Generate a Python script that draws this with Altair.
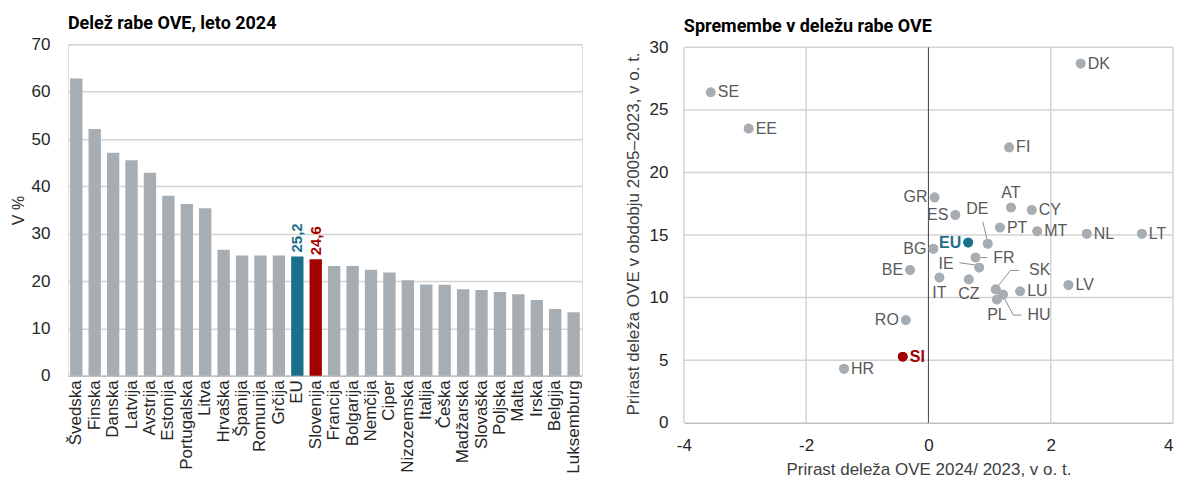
import altair as alt
import pandas as pd

# ---------------- data: left bar chart ----------------
countries = ["Švedska", "Finska", "Danska", "Latvija", "Avstrija", "Estonija", "Portugalska",
             "Litva", "Hrvaška", "Španija", "Romunija", "Grčija", "EU", "Slovenija", "Francija",
             "Bolgarija", "Nemčija", "Ciper", "Nizozemska", "Italija", "Češka", "Madžarska",
             "Slovaška", "Poljska", "Malta", "Irska", "Belgija", "Luksemburg"]
shares = [62.8, 52.1, 47.1, 45.5, 42.9, 38.0, 36.3, 35.4, 26.6, 25.4, 25.4, 25.4, 25.2, 24.6,
          23.2, 23.2, 22.4, 21.8, 20.2, 19.3, 19.2, 18.3, 18.1, 17.7, 17.2, 16.0, 14.1, 13.4]
highlight_labels = {"EU": "25,2", "Slovenija": "24,6"}

# ---------------- data: right scatter ----------------
codes = ["SE", "EE", "DK", "FI", "GR", "ES", "AT", "CY", "PT", "MT", "NL", "LT", "EU", "DE",
         "BG", "FR", "IE", "BE", "IT", "CZ", "SK", "LU", "LV", "HU", "PL", "RO", "SI", "HR"]
change_2024 = [-3.56, -2.94, 2.49, 1.32, 0.10, 0.44, 1.35, 1.69, 1.17, 1.78, 2.59, 3.49, 0.65,
               0.97, 0.08, 0.77, 0.83, -0.30, 0.18, 0.66, 1.10, 1.50, 2.29, 1.22, 1.12, -0.37,
               -0.42, -1.38]
change_2005_2023 = [26.4, 23.5, 28.7, 22.0, 18.0, 16.6, 17.2, 17.0, 15.6, 15.3, 15.1, 15.1, 14.4,
                    14.3, 13.9, 13.2, 12.4, 12.2, 11.6, 11.45, 10.66, 10.5, 11.0, 10.24, 9.84, 8.2,
                    5.27, 4.31]
label_side = {"SE": "r", "EE": "r", "DK": "r", "FI": "r", "GR": "l", "ES": "l", "AT": "a",
              "CY": "r", "PT": "r", "MT": "r", "NL": "r", "LT": "r", "EU": "l", "BG": "l",
              "BE": "l", "IT": "b", "CZ": "b", "LU": "r", "LV": "r", "PL": "b", "RO": "l",
              "SI": "r", "HR": "r", "DE": "m", "FR": "m", "IE": "m", "SK": "m", "HU": "m"}
# labels placed away from their point (data units) and their leader lines
moved_code = ["DE", "FR", "IE", "SK", "HU"]
moved_x = [0.80, 1.06, 0.29, 1.82, 1.81]
moved_y = [17.06, 13.15, 12.65, 12.17, 8.6]
moved_align = ["center", "left", "center", "center", "center"]
leader_code = ["DE", "DE", "FR", "FR", "IE", "IE", "IE", "SK", "SK", "SK", "HU", "HU", "HU"]
leader_order = [0, 1, 0, 1, 0, 1, 2, 0, 1, 2, 0, 1, 2]
leader_x = [0.89, 0.96, 0.86, 0.96, 0.51, 0.75, 0.83, 1.48, 1.34, 1.12, 1.52, 1.39, 1.23]
leader_y = [16.06, 14.6, 13.2, 13.2, 12.78, 12.62, 12.40, 12.17, 12.17, 10.8, 8.6, 8.6, 10.05]

# scatter axis ticks
x_ticks = [-4, -2, 0, 2, 4]
y_ticks = [0, 5, 10, 15, 20, 25, 30]

GREY = "#A6ADB3"
TEAL = "#1B6F8A"
RED = "#A30000"
TXT = "#595959"
GRID = "#D4D4D4"
FONT = "Liberation Sans"
TFONT = "Liberation Sans Narrow, Roboto, sans-serif"

# ---------------- left chart ----------------
bar_df = pd.DataFrame({"country": countries, "share": shares})
bar_df["colour"] = [TEAL if c == "EU" else RED if c == "Slovenija" else GREY for c in countries]
bar_df["lab"] = [highlight_labels.get(c, "") for c in countries]

xenc = alt.X("country:N", sort=countries, title=None,
             scale=alt.Scale(paddingInner=0.33, paddingOuter=0.12),
             axis=alt.Axis(labelAngle=-90, labelFontSize=17, labelFont=FONT, labelColor="#262626",
                           ticks=False, domainColor="#BFBFBF", domainWidth=1.5, labelPadding=4,
                           labelBaseline="middle", labelAlign="right", labelOverlap=False))
yenc = alt.Y("share:Q", title="V %",
             scale=alt.Scale(domain=[0, 70], nice=False),
             axis=alt.Axis(values=[0, 10, 20, 30, 40, 50, 60, 70], labelFontSize=17, labelFont=FONT,
                           labelColor="#262626", ticks=False, domain=False, gridColor=GRID,
                           gridWidth=1.5, titleFont=FONT, titleFontSize=16, titleFontWeight="normal",
                           titleColor="#262626", labelPadding=18, titlePadding=5))

bars = alt.Chart(bar_df).mark_bar().encode(x=xenc, y=yenc, color=alt.Color("colour:N", scale=None))
bar_text = alt.Chart(bar_df).transform_filter("datum.lab != ''").mark_text(
    angle=270, align="left", baseline="middle", dx=4, fontSize=15, fontWeight="bold", font=FONT
).encode(x=alt.X("country:N", sort=countries), y="share:Q", text="lab:N",
         color=alt.Color("colour:N", scale=None))

left = (bars + bar_text).properties(
    width=515, height=332,
    title=alt.TitleParams("Delež rabe OVE, leto 2024", anchor="start", fontSize=18, frame="group",
                          fontWeight="bold", font=TFONT, color="#000000", offset=2)
)

# ---------------- right chart ----------------
sc_df = pd.DataFrame({"code": codes, "dx": change_2024, "dy": change_2005_2023})
sc_df["colour"] = [TEAL if c == "EU" else RED if c == "SI" else TXT for c in codes]
sc_df["pcolour"] = [TEAL if c == "EU" else RED if c == "SI" else GREY for c in codes]
sc_df["side"] = [label_side[c] for c in codes]
sc_df["bold"] = [1 if c in ("EU", "SI") else 0 for c in codes]

xs = alt.X("dx:Q", title="Prirast deleža OVE 2024/ 2023, v o. t.",
           scale=alt.Scale(domain=[-4, 4], nice=False),
           axis=alt.Axis(values=x_ticks, labelExpr="datum.value + ''", grid=False, labelFlush=False,
                         labelAlign=alt.condition("datum.value == 4", alt.value("right"),
                                                  alt.value("center")),
                         labelFontSize=17, labelFont=FONT,
                         labelColor="#262626", ticks=False, domainColor="#BFBFBF", domainWidth=1.5,
                         titleFont=FONT, titleFontSize=17,
                         titleFontWeight="normal", titleColor="#404040", labelPadding=15,
                         titlePadding=8))
ys = alt.Y("dy:Q", title="Prirast deleža OVE v obdobju 2005–2023, v o. t.",
           scale=alt.Scale(domain=[0, 30.24], nice=False),
           axis=alt.Axis(values=y_ticks, labelExpr="datum.value + ''", grid=False,
                         labelFontSize=17, labelFont=FONT,
                         labelColor="#262626", ticks=False, domain=False,
                         titleFont=FONT, titleFontSize=17, titleFontWeight="normal",
                         titleColor="#404040", labelPadding=16, titlePadding=7))

vgrid = alt.Chart(pd.DataFrame({"gx": [v for v in x_ticks if v != 0]})).mark_rule(
    color=GRID, strokeWidth=1.5).encode(x="gx:Q", y=alt.datum(y_ticks[0]), y2=alt.datum(y_ticks[-1]))
hgrid = alt.Chart(pd.DataFrame({"gy": y_ticks[1:]})).mark_rule(
    color=GRID, strokeWidth=1.5).encode(y="gy:Q", x=alt.datum(x_ticks[0]), x2=alt.datum(x_ticks[-1]))
zero = alt.Chart(pd.DataFrame({"z": [0]})).mark_rule(color="#404040", strokeWidth=1).encode(
    x="z:Q", y=alt.datum(y_ticks[0]), y2=alt.datum(y_ticks[-1]))
pts = alt.Chart(sc_df).mark_circle(size=95, opacity=1).encode(
    x=xs, y=ys, color=alt.Color("pcolour:N", scale=None))

def side_labels(side, bold, **kw):
    return alt.Chart(sc_df).transform_filter(
        f"datum.side == '{side}' && datum.bold == {bold}").mark_text(
        fontSize=16, font=FONT, fontWeight="bold" if bold else "normal", **kw
    ).encode(x="dx:Q", y="dy:Q", text="code:N", color=alt.Color("colour:N", scale=None))

lab_layers = []
for b in (0, 1):
    lab_layers += [
        side_labels("r", b, align="left", baseline="middle", dx=7),
        side_labels("l", b, align="right", baseline="middle", dx=-7),
        side_labels("a", b, align="center", baseline="bottom", dy=-7),
        side_labels("b", b, align="center", baseline="top", dy=7),
    ]

mv_df = pd.DataFrame({"code": moved_code, "lx": moved_x, "ly": moved_y, "al": moved_align})
lab_m_c = alt.Chart(mv_df).transform_filter("datum.al == 'center'").mark_text(
    fontSize=16, font=FONT, color=TXT, align="center", baseline="middle"
).encode(x="lx:Q", y="ly:Q", text="code:N")
lab_m_l = alt.Chart(mv_df).transform_filter("datum.al == 'left'").mark_text(
    fontSize=16, font=FONT, color=TXT, align="left", baseline="middle"
).encode(x="lx:Q", y="ly:Q", text="code:N")

ld_df = pd.DataFrame({"code": leader_code, "o": leader_order, "x": leader_x, "y": leader_y})
leaders = alt.Chart(ld_df).mark_line(color="#8C8C8C", strokeWidth=1).encode(
    x="x:Q", y="y:Q", detail="code:N", order="o:Q")

right = alt.layer(pts, vgrid, hgrid, zero, leaders, pts, *lab_layers, lab_m_c, lab_m_l).properties(
    width=490, height=379,
    view=alt.ViewBackground(strokeOpacity=0),
    title=alt.TitleParams("Spremembe v deležu rabe OVE", anchor="start", fontSize=18, frame="group",
                          fontWeight="bold", font=TFONT, color="#000000", offset=2)
)

chart = alt.hconcat(left, right, spacing=41).properties(
    padding={"left": 1, "top": 6, "right": 0, "bottom": 0}
).configure_view(
    stroke="#C8C8C8", strokeWidth=1.5
).configure(background="white")

chart.save("out.html", embed_options={"renderer": "svg", "actions": False})
